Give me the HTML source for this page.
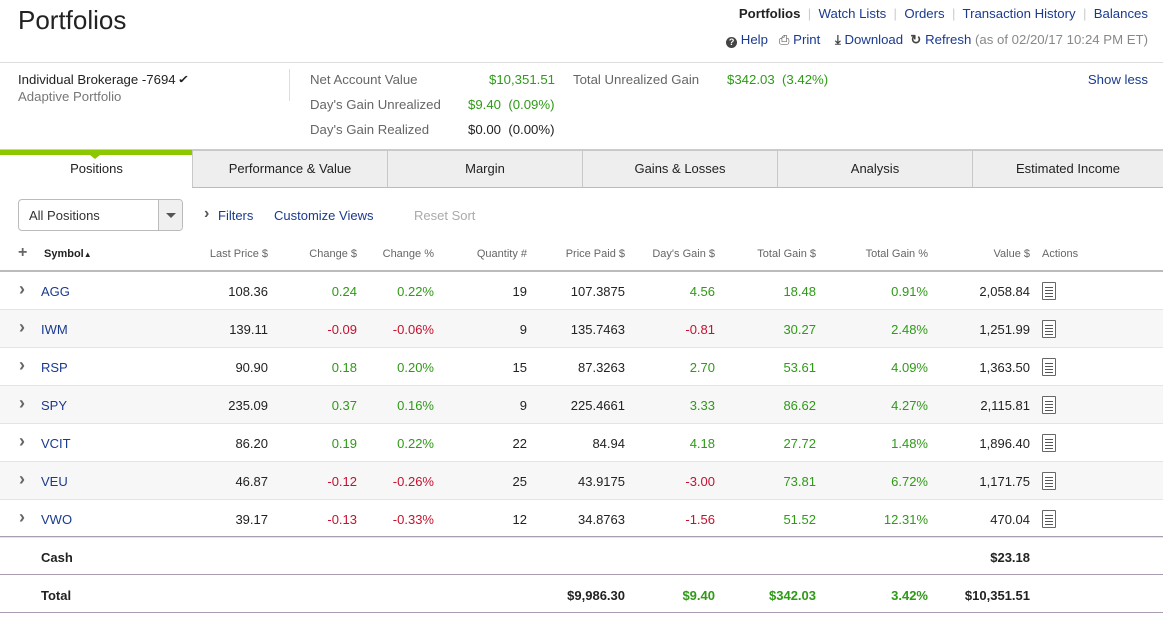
<!DOCTYPE html>
<html><head><meta charset="utf-8"><style>
*{margin:0;padding:0;box-sizing:border-box}
body{width:1163px;height:618px;background:#fff;font-family:"Liberation Sans",Arial,sans-serif;color:#222;position:relative;overflow:hidden;font-size:13px}
.a{position:absolute;white-space:nowrap}
.lk{color:#1a3a8f}
.g{color:#2e9a16}.r{color:#c8102e}
.gr{color:#666}
.s{font-size:13.2px}
.tab{position:absolute;top:150px;height:38px;background:#eee;border:1px solid #c8c8c8;border-bottom:1px solid #bbb;text-align:center;line-height:36px;font-size:13px;color:#222}
.hd{position:absolute;top:248px;font-size:11px;color:#666;white-space:nowrap}
.c{position:absolute;white-space:nowrap;font-size:13px}
.ic{position:absolute;width:14px;height:18px;border:1px solid #666;border-radius:1px;background:#fff}
.ic i{position:absolute;left:2px;width:8px;height:1px;background:#555}
</style></head><body>
<div class="a" style="left:18px;top:5px;font-size:26px;color:#222">Portfolios</div>
<div class="a" style="right:15px;top:6px;font-size:13.2px">
<b style="color:#222">Portfolios</b> <span style="color:#ccc">&nbsp;|&nbsp;</span>
<span class="lk">Watch Lists</span> <span style="color:#ccc">&nbsp;|&nbsp;</span>
<span class="lk">Orders</span> <span style="color:#ccc">&nbsp;|&nbsp;</span>
<span class="lk">Transaction History</span> <span style="color:#ccc">&nbsp;|&nbsp;</span>
<span class="lk">Balances</span></div>
<div class="a" style="right:15px;top:32px;font-size:13.2px">
<span class="lk"><span style="display:inline-block;width:11px;height:11px;border-radius:50%;background:#444;color:#fff;font-size:9px;text-align:center;line-height:11px;font-weight:bold;vertical-align:-1px">?</span> Help</span>&nbsp;&nbsp;
<span class="lk"><span style="color:#444">⎙</span> Print</span>&nbsp;&nbsp;&nbsp;
<span class="lk"><span style="color:#444;font-weight:bold">⤓</span> Download</span>&nbsp;
<span class="lk"><span style="color:#444;font-weight:bold">↻</span> Refresh</span> <span style="color:#888">(as of 02/20/17 10:24 PM ET)</span></div>
<div class="a" style="left:0;top:62px;width:1163px;height:1px;background:#ddd"></div>
<div class="a s" style="left:18px;top:72px;color:#222">Individual Brokerage -7694 <b style="font-size:11px;display:inline-block;transform:scaleX(1.3) translateY(-1px)">&#x2713;</b></div>
<div class="a s" style="left:18px;top:89px;color:#777">Adaptive Portfolio</div>
<div class="a" style="left:289px;top:69px;width:1px;height:32px;background:#ddd"></div>
<div class="a gr s" style="left:310px;top:72px">Net Account Value</div>
<div class="a g s" style="left:489px;top:72px">$10,351.51</div>
<div class="a gr s" style="left:310px;top:97px">Day's Gain Unrealized</div>
<div class="a g s" style="left:468px;top:97px">$9.40&nbsp; (0.09%)</div>
<div class="a gr s" style="left:310px;top:122px">Day's Gain Realized</div>
<div class="a s" style="left:468px;top:122px">$0.00&nbsp; (0.00%)</div>
<div class="a gr s" style="left:573px;top:72px">Total Unrealized Gain</div>
<div class="a g s" style="left:727px;top:72px">$342.03&nbsp; (3.42%)</div>
<div class="a lk s" style="right:15px;top:72px">Show less</div>

<div class="a" style="left:0;top:149px;width:1163px;height:1px;background:#ccc"></div>
<div class="tab" style="left:0;width:193px;background:#fff;border:none;border-top:5px solid #8dc700;line-height:28px;top:150px">Positions</div>
<div class="a" style="left:90px;top:155px;width:0;height:0;border-left:5px solid transparent;border-right:5px solid transparent;border-top:4px solid #8dc700"></div>
<div class="tab" style="left:192px;width:196px">Performance &amp; Value</div>
<div class="tab" style="left:387px;width:196px">Margin</div>
<div class="tab" style="left:582px;width:196px">Gains &amp; Losses</div>
<div class="tab" style="left:777px;width:196px">Analysis</div>
<div class="tab" style="left:972px;width:192px">Estimated Income</div>

<div class="a" style="left:18px;top:199px;width:165px;height:32px;border:1px solid #bbb;border-radius:4px;background:#fff;overflow:hidden">
<span style="position:absolute;left:10px;top:8px;font-size:13px;color:#333">All Positions</span>
<span style="position:absolute;left:139px;top:0;width:25px;height:30px;border-left:1px solid #bbb;background:#f0f0f0"></span>
<span style="position:absolute;left:147px;top:13px;border-left:5px solid transparent;border-right:5px solid transparent;border-top:5px solid #555"></span></div>
<div class="a" style="left:204px;top:205px;font-size:16px;font-weight:bold;color:#555">›</div>
<div class="a lk" style="left:218px;top:208px;font-size:13px">Filters</div>
<div class="a lk" style="left:274px;top:208px;font-size:13px">Customize Views</div>
<div class="a" style="left:414px;top:208px;font-size:13px;color:#aaa">Reset Sort</div>

<div class="a" style="left:18px;top:244px;font-size:16px;font-weight:bold;color:#666">+</div>
<div id="tbl"></div>
<script>
const symbols=["AGG","IWM","RSP","SPY","VCIT","VEU","VWO"];
const lastPrice=["108.36","139.11","90.90","235.09","86.20","46.87","39.17"];
const changeD=["0.24","-0.09","0.18","0.37","0.19","-0.12","-0.13"];
const changeP=["0.22%","-0.06%","0.20%","0.16%","0.22%","-0.26%","-0.33%"];
const quantity=["19","9","15","9","22","25","12"];
const pricePaid=["107.3875","135.7463","87.3263","225.4661","84.94","43.9175","34.8763"];
const daysGain=["4.56","-0.81","2.70","3.33","4.18","-3.00","-1.56"];
const totalGainD=["18.48","30.27","53.61","86.62","27.72","73.81","51.52"];
const totalGainP=["0.91%","2.48%","4.09%","4.27%","1.48%","6.72%","12.31%"];
const values=["2,058.84","1,251.99","1,363.50","2,115.81","1,896.40","1,171.75","470.04"];
const headers=["Last Price $","Change $","Change %","Quantity #","Price Paid $","Day's Gain $","Total Gain $","Total Gain %","Value $"];
const colRight=[268,357,434,527,625,715,816,928,1030];
const T=document.getElementById('tbl');
function add(html,style,name,inter,cls){const d=document.createElement('div');d.className=cls||'c';d.innerHTML=html;d.style.cssText=style;


T.appendChild(d);return d;}
add('<b style="color:#222">Symbol</b><span style="font-size:8px;color:#222">▲</span>','left:44px;top:248px;font-size:11px','symbol-header',true,'hd');
headers.forEach((h,i)=>{const k=h.toLowerCase().replace(/[^a-z]+/g,'-').replace(/-$/,'');add(h,'right:'+(1163-colRight[i])+'px','header-'+k,true,'hd');});
add('Actions','left:1042px','header-actions',false,'hd');
add('','left:0;top:270px;width:1163px;height:2px;background:#bbb','header-bottom-border',false,'a');
const cls=v=>v.startsWith('-')?'r':'g';
symbols.forEach((s,i)=>{const top=272+i*38;
add('','left:0;top:'+top+'px;width:1163px;height:38px;background:'+(i%2?'#f7f7f7':'#fff')+';border-bottom:1px solid #e4e4e4','row-'+s.toLowerCase(),false,'a');
const cy=top+12;
add('<b style="color:#666;font-size:18px">›</b>','left:19px;top:'+(cy-5)+'px;line-height:20px','expand-'+s.toLowerCase(),true);
add('<span class="lk">'+s+'</span>','left:41px;top:'+cy+'px','symbol-'+s.toLowerCase(),true);
const vals=[[lastPrice[i],''],[changeD[i],cls(changeD[i])],[changeP[i],cls(changeP[i])],[quantity[i],''],[pricePaid[i],''],[daysGain[i],cls(daysGain[i])],[totalGainD[i],cls(totalGainD[i])],[totalGainP[i],cls(totalGainP[i])],[values[i],'']];
vals.forEach((v,j)=>{const d=add(v[0],'right:'+(1163-colRight[j])+'px;top:'+cy+'px','cell-'+s.toLowerCase()+'-'+j,false);if(v[1])d.classList.add(v[1]);});
add('<i style="top:4px"></i><i style="top:7px"></i><i style="top:10px"></i><i style="top:13px"></i>','left:1042px;top:'+(top+10)+'px','actions-icon-'+s.toLowerCase(),true,'ic');
});
add('','left:0;top:536px;width:1163px;height:1px;background:#a99cb3','cash-top-border',false,'a');
add('<b>Cash</b>','left:41px;top:550px','cash-label',false);
add('<b>$23.18</b>','right:133px;top:550px','cash-value',false);
add('','left:0;top:574px;width:1163px;height:1px;background:#a99cb3','total-top-border',false,'a');
add('<b>Total</b>','left:41px;top:588px','total-label',false);
add('<b>$9,986.30</b>','right:538px;top:588px','total-price-paid',false);
add('<b class="g">$9.40</b>','right:448px;top:588px','total-days-gain',false);
add('<b class="g">$342.03</b>','right:347px;top:588px','total-gain-dollar',false);
add('<b class="g">3.42%</b>','right:235px;top:588px','total-gain-percent',false);
add('<b>$10,351.51</b>','right:133px;top:588px','total-value',false);
add('','left:0;top:612px;width:1163px;height:1px;background:#a99cb3','total-bottom-border',false,'a');
</script>
</body></html>
